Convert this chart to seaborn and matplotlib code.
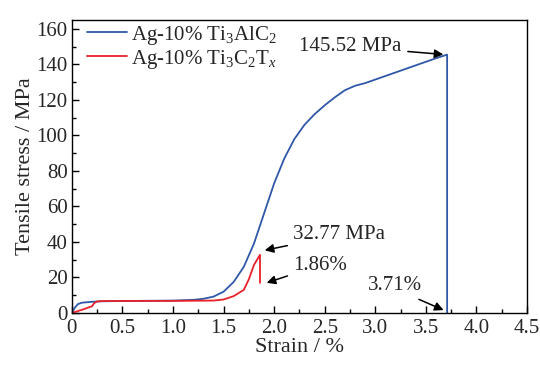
import pandas as pd
import seaborn as sns
import matplotlib.pyplot as plt
from matplotlib.ticker import MultipleLocator, FuncFormatter

# strain (%) and tensile stress (MPa)
strain_alc = [0, 0.03, 0.06, 0.1, 0.2, 0.3, 0.6, 1.0, 1.2, 1.3, 1.4, 1.5, 1.6, 1.7, 1.8, 1.9,
              2.0, 2.1, 2.2, 2.3, 2.4, 2.5, 2.6, 2.7, 2.8, 2.9, 3.0, 3.2, 3.4, 3.6, 3.71, 3.71]
stress_alc = [0, 3.0, 5.0, 5.8, 6.3, 6.6, 6.8, 7.0, 7.4, 8.0, 9.2, 12.0, 17.5, 26.0, 39.0, 56.0,
              73.0, 87.0, 98.0, 106.0, 112.0, 117.0, 121.5, 125.5, 128.0, 129.5, 131.5, 135.5, 139.5, 143.5, 145.52, 0]

strain_ctx = [0, 0.1, 0.2, 0.22, 0.25, 0.3, 0.6, 1.0, 1.4, 1.5, 1.6, 1.7, 1.75, 1.8, 1.86, 1.86]
stress_ctx = [0, 1.8, 3.8, 5.5, 6.5, 6.7, 6.8, 6.8, 7.0, 7.6, 9.5, 13.0, 19.0, 27.0, 32.77, 17.0]

labels = ["Ag-10% Ti$_3$AlC$_2$", "Ag-10% Ti$_3$C$_2$T$_x$"]
colors = ["#2f58a8", "#e8212a"]

sns.set_theme(style="white")
plt.rcParams['font.family'] = ['Liberation Serif', 'DejaVu Serif']
plt.rcParams['mathtext.fontset'] = 'custom'
plt.rcParams['mathtext.rm'] = 'Liberation Serif'
plt.rcParams['mathtext.it'] = 'Liberation Serif:italic'

df = pd.concat([
    pd.DataFrame({"strain": strain_alc, "stress": stress_alc, "sample": labels[0]}),
    pd.DataFrame({"strain": strain_ctx, "stress": stress_ctx, "sample": labels[1]}),
], ignore_index=True)

fig = plt.figure(figsize=(5.4, 3.65), dpi=100)
ax = fig.add_axes([0.133, 0.1425, 0.843, 0.8025])

sns.lineplot(data=df, x="strain", y="stress", hue="sample", palette=colors,
             sort=False, estimator=None, linewidth=1.3, ax=ax)

ax.set_xlim(0, 4.5)
ax.set_ylim(0, 165)
ax.xaxis.set_major_locator(MultipleLocator(0.5))
ax.xaxis.set_minor_locator(MultipleLocator(0.25))
ax.yaxis.set_major_locator(MultipleLocator(20))
ax.yaxis.set_minor_locator(MultipleLocator(10))
ax.xaxis.set_major_formatter(FuncFormatter(lambda v, p: "0" if v == 0 else f"{v:.1f}"))
ax.tick_params(which="both", direction="in", bottom=True, left=True, top=False, right=False,
               labelsize=15, color="black")
ax.tick_params(axis="x", pad=4)
ax.tick_params(axis="y", pad=3)
ax.tick_params(which="major", length=5, width=1)
ax.tick_params(which="minor", length=3, width=1)
for s in ax.spines.values():
    s.set_color("black")
    s.set_linewidth(1)

ax.set_xlabel("Strain / %", fontsize=16, labelpad=0)
ax.set_ylabel("Tensile stress / MPa", fontsize=16, labelpad=1)

ax.legend(loc="upper left", frameon=False, fontsize=15, handlelength=1.9,
          borderaxespad=0.0, labelspacing=0.05, handletextpad=0.2,
          bbox_to_anchor=(0.015, 1.016))

arrow = dict(arrowstyle="-|>", color="black", lw=1.1, mutation_scale=13)
ax.annotate("145.52 MPa", xy=(3.70, 145.5), xytext=(2.25, 150), fontsize=15,
            va="center", arrowprops=arrow)
ax.annotate("32.77 MPa", xy=(1.88, 35), xytext=(2.19, 44), fontsize=15,
            va="center", arrowprops=arrow)
ax.annotate("1.86%", xy=(1.90, 16.5), xytext=(2.19, 27), fontsize=15,
            va="center", arrowprops=arrow)
ax.annotate("3.71%", xy=(3.70, 1.0), xytext=(2.93, 15.5), fontsize=15,
            va="center", arrowprops=dict(arrow, relpos=(0.75, 0.0)))

fig.savefig("out.png", dpi=100)
